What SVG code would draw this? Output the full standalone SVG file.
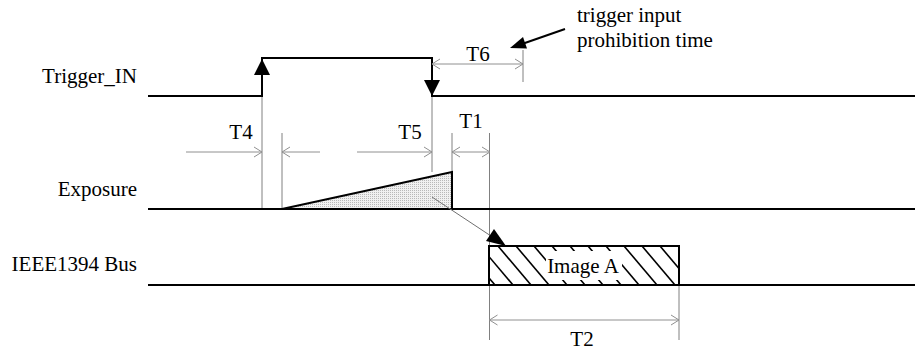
<svg xmlns="http://www.w3.org/2000/svg" width="915" height="351" viewBox="0 0 915 351">
<style>
text{font-family:"Liberation Serif","Times New Roman",serif;font-size:21px;fill:#000}
.sig{fill:none;stroke:#000;stroke-width:2}
.ext{fill:none;stroke:#808080;stroke-width:1}
.dim{fill:none;stroke:#909090;stroke-width:1}
.hatch{stroke:#000;stroke-width:1.6}
</style>
<defs>
<marker id="ov" markerUnits="userSpaceOnUse" markerWidth="12" markerHeight="12" viewBox="-10 -6 12 12" refX="0" refY="0" orient="auto-start-reverse">
<path d="M-8,-5 L0,0 L-8,5" fill="none" stroke="#909090" stroke-width="1"/>
</marker>
<pattern id="dots" width="2" height="2" patternUnits="userSpaceOnUse">
<rect width="2" height="2" fill="#f0f0f0"/>
<rect width="1" height="1" fill="#b8b8b8"/>
</pattern>
<clipPath id="imgclip"><rect x="489" y="246" width="190" height="39"/></clipPath>
</defs>

<g id="labels">
<text x="137" y="83" text-anchor="end">Trigger_IN</text>
<text x="137" y="196" text-anchor="end">Exposure</text>
<text x="137" y="271" text-anchor="end">IEEE1394 Bus</text>
</g>

<g id="extension-lines">
<line class="ext" x1="262" y1="96" x2="262" y2="209"/>
<line class="ext" x1="432" y1="96" x2="432" y2="172"/>
<line class="ext" x1="282" y1="133" x2="282" y2="209"/>
<line class="ext" x1="452" y1="133" x2="452" y2="172"/>
<line class="ext" x1="489.5" y1="133" x2="489.5" y2="340"/>
<line class="ext" x1="679" y1="285" x2="679" y2="340"/>
<line class="ext" x1="523" y1="50" x2="523" y2="82"/>
</g>

<g id="trigger_in">
<polyline class="sig" points="148,96 262,96 262,58 432,58 432,96 915,96"/>
<polygon points="262,59 254,75 270,75" fill="#000"/>
<polygon points="432,96 424,80 440,80" fill="#000"/>
</g>

<g id="exposure">
<line class="sig" x1="148" y1="209" x2="915" y2="209"/>
<polygon points="282,209 452,172 452,209" fill="url(#dots)" stroke="#000" stroke-width="2" stroke-linejoin="miter"/>
</g>

<g id="bus">
<line class="sig" x1="148" y1="285" x2="915" y2="285"/>
<g id="image-a">
<rect x="489" y="246" width="190" height="39" fill="#fff"/>
<g clip-path="url(#imgclip)">
<line class="hatch" x1="444" y1="246" x2="477" y2="285"/>
<line class="hatch" x1="462" y1="246" x2="495" y2="285"/>
<line class="hatch" x1="480" y1="246" x2="513" y2="285"/>
<line class="hatch" x1="498" y1="246" x2="531" y2="285"/>
<line class="hatch" x1="516" y1="246" x2="549" y2="285"/>
<line class="hatch" x1="534" y1="246" x2="567" y2="285"/>
<line class="hatch" x1="552" y1="246" x2="585" y2="285"/>
<line class="hatch" x1="570" y1="246" x2="603" y2="285"/>
<line class="hatch" x1="588" y1="246" x2="621" y2="285"/>
<line class="hatch" x1="606" y1="246" x2="639" y2="285"/>
<line class="hatch" x1="624" y1="246" x2="657" y2="285"/>
<line class="hatch" x1="642" y1="246" x2="675" y2="285"/>
<line class="hatch" x1="660" y1="246" x2="693" y2="285"/>
</g>
<rect x="546" y="251" width="76" height="29" fill="#fff"/>
<rect x="489" y="246" width="190" height="39" fill="none" stroke="#000" stroke-width="2"/>
<text x="583" y="273" text-anchor="middle">Image A</text>
</g>
</g>

<g id="connectors">
<line x1="432" y1="197" x2="494" y2="238" stroke="#707070" stroke-width="1"/>
<polygon points="506,246 486,241 494,229" fill="#000"/>
<line x1="565" y1="29" x2="522" y2="44" stroke="#000" stroke-width="2"/>
<polygon points="510,48 527,48.5 523,37" fill="#000"/>
</g>

<g id="dimensions">
<line class="dim" x1="432" y1="64" x2="523" y2="64" marker-start="url(#ov)" marker-end="url(#ov)"/>
<line class="dim" x1="186" y1="152" x2="262" y2="152" marker-end="url(#ov)"/>
<line class="dim" x1="320" y1="152" x2="282" y2="152" marker-end="url(#ov)"/>
<line class="dim" x1="357" y1="152" x2="432" y2="152" marker-end="url(#ov)"/>
<line class="dim" x1="452" y1="152" x2="490" y2="152" marker-start="url(#ov)" marker-end="url(#ov)"/>
<line class="dim" x1="489.5" y1="320" x2="679" y2="320" marker-start="url(#ov)" marker-end="url(#ov)"/>
<text x="478" y="61" text-anchor="middle">T6</text>
<text x="241" y="139" text-anchor="middle">T4</text>
<text x="410" y="139" text-anchor="middle">T5</text>
<text x="471" y="128" text-anchor="middle">T1</text>
<text x="582" y="346" text-anchor="middle">T2</text>
</g>

<g id="note">
<text x="577" y="22">trigger input</text>
<text x="577" y="47">prohibition time</text>
</g>
</svg>
